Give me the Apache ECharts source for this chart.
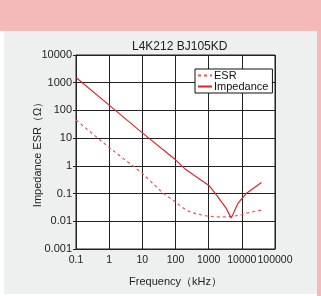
<!DOCTYPE html>
<html>
<head>
<meta charset="utf-8">
<script src="https://cdn.jsdelivr.net/npm/echarts@6/dist/echarts.min.js"></script>
<style>
  html, body { margin: 0; padding: 0; background: #fff; }
  .band-top { position: absolute; left: 0; top: 0; width: 321px; height: 31px; background: #f4b9b9; }
  .band-right { position: absolute; left: 317px; top: 0; width: 4px; height: 296px; background: #f4b9b9; }
  .panel { position: absolute; left: 4px; top: 31px; width: 313px; height: 263px; background: #eef0ef; }
  #chart { position: absolute; left: 0; top: 0; width: 321px; height: 296px; }
</style>
</head>
<body>
<div class="band-top"></div>
<div class="band-right"></div>
<div class="panel"></div>
<div id="chart"></div>
<script>
// values (kHz, Ω)
const impFreq = [0.1, 1, 10, 100, 200, 500, 1000, 1600, 2500, 3400, 4800, 6300, 7600, 13500, 39000];
const impValue = [1550, 155, 15.5, 1.65, 0.75, 0.35, 0.2, 0.1, 0.048, 0.029, 0.013, 0.027, 0.044, 0.1, 0.25];
const esrFreq = [0.1, 1, 10, 43, 70, 100, 150, 215, 300, 480, 900, 1900, 3500, 5400, 10000, 15000, 25000, 43000];
const esrValue = [45, 4.6, 0.54, 0.1, 0.068, 0.05, 0.034, 0.025, 0.021, 0.018, 0.0155, 0.0145, 0.0145, 0.015, 0.0175, 0.02, 0.023, 0.026];
const seriesNames = ['ESR', 'Impedance'];

const chart = echarts.init(document.getElementById('chart'), null, { renderer: 'canvas' });

const font = 'Liberation Sans, Arial, sans-serif';
const fmt = v => String(+Number(v).toPrecision(3));

const option = {
    backgroundColor: 'transparent',
    animation: false,
    textStyle: { fontFamily: font },
    title: {
        text: 'L4K212 BJ105KD',
        left: 127,
        top: 36,
        textStyle: { fontSize: 12, fontWeight: 'normal', color: '#222', fontFamily: font }
    },
    legend: {
        data: seriesNames,
        orient: 'vertical',
        left: 195,
        top: 69,
        padding: [1, 4, 1, 2],
        itemGap: 0,
        itemWidth: 14,
        itemHeight: 10,
        backgroundColor: '#fff',
        borderColor: '#111',
        borderWidth: 1,
        borderRadius: 0,
        itemStyle: { opacity: 0 },
        textStyle: { fontSize: 11, color: '#111', fontFamily: font, padding: [0, 0, 0, -3] }
    },
    grid: {
        left: 76,
        top: 55,
        width: 199,
        height: 194,
        show: true,
        backgroundColor: '#fff',
        borderColor: '#222',
        borderWidth: 1
    },
    xAxis: {
        type: 'log',
        logBase: 10,
        min: 0.1,
        max: 100000,
        name: 'Frequency（kHz）',
        nameLocation: 'middle',
        nameGap: 27,
        nameTextStyle: { fontSize: 11, color: '#222', fontFamily: font },
        axisLine: { lineStyle: { color: '#222' } },
        axisTick: { show: false },
        axisLabel: { color: '#222', fontSize: 10.5, margin: 6, formatter: fmt, showMinLabel: true, showMaxLabel: true, hideOverlap: false },
        splitLine: { show: true, lineStyle: { color: '#222', width: 1 } }
    },
    yAxis: {
        type: 'log',
        logBase: 10,
        min: 0.001,
        max: 10000,
        name: 'Impedance ESR（Ω）',
        nameLocation: 'middle',
        nameGap: 33,
        nameMoveOverlap: false,
        nameTextStyle: { fontSize: 11, color: '#222', fontFamily: font },
        axisLine: { lineStyle: { color: '#222' } },
        axisTick: { show: true, length: 3, lineStyle: { color: '#222' } },
        axisLabel: { color: '#222', fontSize: 11, margin: 4, formatter: fmt },
        splitLine: { show: true, lineStyle: { color: '#222', width: 1 } }
    },
    series: [
        {
            name: seriesNames[0],
            type: 'line',
            data: esrFreq.map((f, i) => [f, esrValue[i]]),
            showSymbol: false,
            symbol: 'none',
            lineStyle: { color: '#f05555', width: 1.2, type: [3, 3] },
            itemStyle: { color: '#f05555' }
        },
        {
            name: seriesNames[1],
            type: 'line',
            data: impFreq.map((f, i) => [f, impValue[i]]),
            showSymbol: false,
            symbol: 'none',
            lineStyle: { color: '#e4222a', width: 1.2, type: 'solid' },
            itemStyle: { color: '#e4222a' }
        }
    ]
};

chart.setOption(option);
</script>
</body>
</html>
